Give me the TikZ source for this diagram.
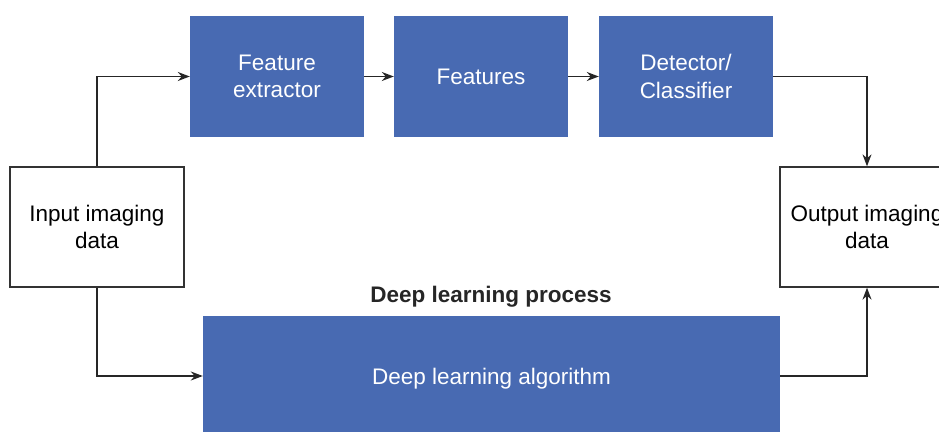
\documentclass[tikz,border=0pt]{standalone}
\usepackage{fontspec}
\setmainfont{Liberation Sans}
\usetikzlibrary{arrows.meta}

\definecolor{boxblue}{RGB}{72,106,178}

\tikzset{
    bluebox/.style={fill=boxblue, text=white, minimum width=174pt,
        minimum height=121pt, align=center, inner sep=0pt,
        font=\fontsize{22.5}{27.5}\selectfont},
    whitebox/.style={draw=black!80, line width=1.3pt, fill=white,
        minimum width=174pt, minimum height=120pt, align=center,
        inner sep=0pt, font=\fontsize{22.5}{27.5}\selectfont},
    flow/.style={draw=black!85, line width=1.3pt,
        -{Stealth[length=12pt,width=9pt]}}
}

\begin{document}
\begin{tikzpicture}[x=1pt, y=-1pt]
    % Рамка
    \useasboundingbox (0,0) rectangle (939,431);

    % Верхний ряд
    \node[bluebox] (extractor) at (277,76.5) {Feature\\extractor};
    \node[bluebox] (features) at (481,76.5) {Features};
    \node[bluebox] (classifier) at (686,76.5) {Detector/\\Classifier};

    % Вход и выход
    \node[whitebox] (input) at (97,227) {Input imaging\\data};
    \node[whitebox] (output) at (867,227) {Output imaging\\data};

    % Глубокое обучение
    \node[bluebox, minimum width=577pt, minimum height=120pt, text depth=0pt]
        (deep) at (491.5,376) {Deep learning algorithm};
    \node[font=\fontsize{22.5}{27}\selectfont\bfseries, text=black!85]
        (deeplabel) at (491,297) {Deep learning process};

    \draw[flow] (input.north) |- (extractor.west);
    \draw[flow] (extractor) -- (features);
    \draw[flow] (features) -- (classifier);
    \draw[flow] (classifier.east) -| (output.north);

    \draw[flow] (input.south) |- (deep.west);
    \draw[flow] (deep.east) -| (output.south);
\end{tikzpicture}
\end{document}
